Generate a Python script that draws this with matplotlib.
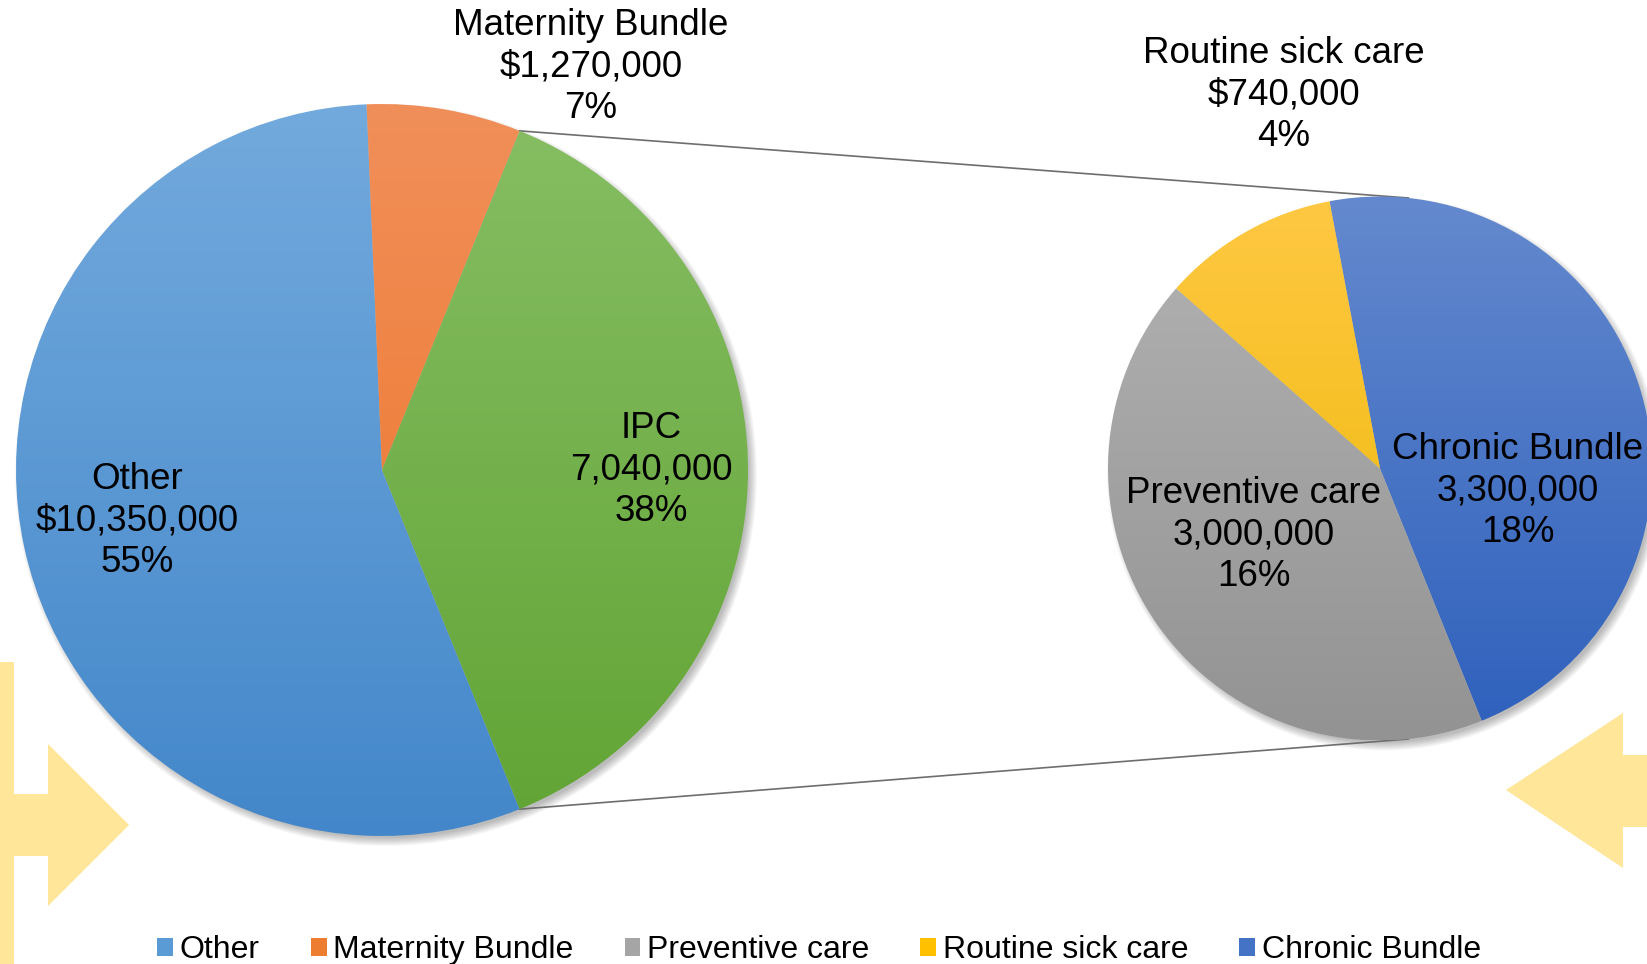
import numpy as np
import matplotlib
matplotlib.use("Agg")
import matplotlib.pyplot as plt
from matplotlib.patches import Circle, Polygon, Patch
from matplotlib.colors import to_rgb

# data
left_labels = ["Other", "Maternity Bundle", "IPC"]
left_values = [10350000, 1270000, 7040000]
left_prefix = ["$", "$", ""]

right_labels = ["Chronic Bundle", "Preventive care", "Routine sick care"]
right_values = [3300000, 3000000, 740000]
right_prefix = ["", "", "$"]

legend_order = ["Other", "Maternity Bundle", "Preventive care", "Routine sick care", "Chronic Bundle"]

# styles: (top, bottom) of the vertical gradient, plus flat colour for legend
grad_colors = {
    "Other": ("#73AADD", "#4387CA"),
    "Maternity Bundle": ("#F18F5A", "#EC7222"),
    "IPC": ("#87BE64", "#61A434"),
    "Chronic Bundle": ("#6489CE", "#2E60BC"),
    "Preventive care": ("#B3B3B3", "#939393"),
    "Routine sick care": ("#FFC843", "#EAB700"),
}
flat_colors = {
    "Other": "#5B9BD5",
    "Maternity Bundle": "#ED7D31",
    "Preventive care": "#A5A5A5",
    "Routine sick care": "#FFC000",
    "Chronic Bundle": "#4472C4",
}

W, H = 1647, 964
FONT = "Liberation Sans"

# geometry in image pixels (y down)
left_c, left_r = (382, 470), 366
right_c, right_r = (1380, 468.5), 272
right_start = 100.7  # math degrees where first slice of the small pie starts

# label positions (image px)
left_pos = [(137, 521), (591, 67), (651, 470)]
right_pos = [(1518, 491), (1254, 535), (1284, 95)]

fig = plt.figure(figsize=(W / 100, H / 100), dpi=100)
ax = fig.add_axes([0, 0, 1, 1])


def yy(y):
    return H - y


def shadow(cx, cy, r):
    for k in range(9):
        ax.add_patch(Circle((cx + 4, cy - 5), r - 3 + k, color="black",
                            alpha=0.03, lw=0, zorder=1))


def gradient_fill(wedge, top, bottom, cx, cy, r):
    g = np.linspace(0, 1, 256)[:, None, None]
    img = np.array(to_rgb(top)) * (1 - g) + np.array(to_rgb(bottom)) * g
    im = ax.imshow(img, extent=(cx - r, cx + r, cy - r, cy + r), origin="upper",
                   aspect="auto", zorder=2, interpolation="bilinear")
    im.set_clip_path(wedge)
    wedge.set_facecolor("none")


total = sum(left_values)
ipc_deg = left_values[2] / total * 360

# left pie
lcx, lcy = left_c[0], yy(left_c[1])
shadow(lcx, lcy, left_r)
wedges, _ = ax.pie(left_values, center=(lcx, lcy), radius=left_r,
                   startangle=-ipc_deg / 2, counterclock=False, frame=True,
                   wedgeprops=dict(lw=0))
for w, lab in zip(wedges, left_labels):
    gradient_fill(w, *grad_colors[lab], lcx, lcy, left_r)

# right pie
rcx, rcy = right_c[0], yy(right_c[1])
shadow(rcx, rcy, right_r)
wedges, _ = ax.pie(right_values, center=(rcx, rcy), radius=right_r,
                   startangle=right_start, counterclock=False, frame=True,
                   wedgeprops=dict(lw=0))
for w, lab in zip(wedges, right_labels):
    gradient_fill(w, *grad_colors[lab], rcx, rcy, right_r)

# connector lines
for sgn in (1, -1):
    a = np.radians(sgn * ipc_deg / 2)
    x1 = lcx + left_r * np.cos(a)
    y1 = lcy + left_r * np.sin(a)
    b = np.radians(90 - 6) * sgn
    x2 = rcx + right_r * np.cos(b)
    y2 = rcy + right_r * np.sin(b)
    ax.plot([x1, x2], [y1, y2], color="#6E6E6E", lw=1.2, zorder=1.5)

# labels
for lab, v, p, pos in zip(left_labels, left_values, left_prefix, left_pos):
    s = f"{lab}\n{p}{v:,}\n{v / total * 100:.0f}%"
    ax.text(pos[0], yy(pos[1]), s, ha="center", va="center", fontsize=26.5,
            family=FONT, linespacing=1.25, zorder=5)
for lab, v, p, pos in zip(right_labels, right_values, right_prefix, right_pos):
    s = f"{lab}\n{p}{v:,}\n{v / total * 100:.0f}%"
    ax.text(pos[0], yy(pos[1]), s, ha="center", va="center", fontsize=26.5,
            family=FONT, linespacing=1.25, zorder=5)

# decorative yellow arrows
arrow_col = "#FFE699"
left_arrow = [(0, 662), (14, 662), (14, 794), (48, 794), (48, 744), (129, 825),
              (48, 906), (48, 856), (14, 856), (14, 964), (0, 964)]
right_arrow = [(1647, 755), (1623, 755), (1623, 713), (1506, 790), (1623, 868),
               (1623, 827), (1647, 827)]
for pts in (left_arrow, right_arrow):
    ax.add_patch(Polygon([(x, yy(y)) for x, y in pts], closed=True,
                         color=arrow_col, lw=0, zorder=0))

ax.set_xlim(0, W)
ax.set_ylim(0, H)
ax.axis("off")

handles = [Patch(facecolor=flat_colors[l], edgecolor="none") for l in legend_order]
fig.legend(handles, legend_order, loc="center", bbox_to_anchor=(819 / W, 1 - 950 / H),
           ncol=5, frameon=False, prop=dict(family=FONT, size=23),
           handlelength=0.5, handleheight=0.5, handletextpad=0.2,
           columnspacing=1.6, borderaxespad=0)

fig.savefig("out.png", dpi=100)
